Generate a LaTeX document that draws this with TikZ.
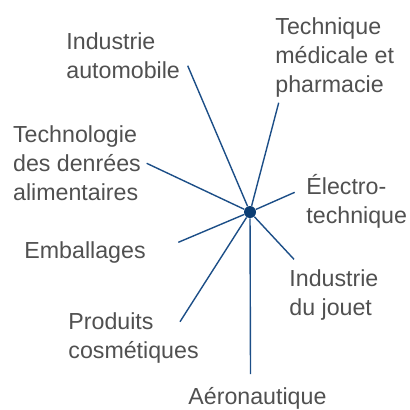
\documentclass[tikz,border=0pt]{standalone}
\usepackage{fontspec}
\setmainfont{Liberation Sans}
\usetikzlibrary{positioning}
\definecolor{navy}{HTML}{0B3D73}
\definecolor{spokeblue}{HTML}{1C4E87}
\definecolor{textgray}{HTML}{505050}

\begin{document}
\begin{tikzpicture}[x=0.5pt, y=-0.5pt,
  lbl/.style={anchor=base west, inner sep=0pt, align=left, text=textgray, font=\fontsize{11.6}{14.4}\selectfont},
  spoke/.style={draw=spokeblue, line width=0.7pt},
]
\useasboundingbox (0,0) rectangle (410,409);

% Hub in the middle
\node[circle, fill=navy, inner sep=0pt, minimum size=6pt] (hub) at (250,212) {};

% Free ends of the spokes
\coordinate (autoEnd) at (187.7,65.7);
\coordinate (medEnd) at (278.7,102.7);
\coordinate (foodEnd) at (146.7,163.3);
\coordinate (elecEnd) at (294.7,192.3);
\coordinate (packEnd) at (178.3,242.3);
\coordinate (toyEnd) at (294,259.3);
\coordinate (cosmEnd) at (180,321.7);
\coordinate (aeroEnd) at (250.5,374);

\foreach \e in {autoEnd,medEnd,foodEnd,elecEnd,packEnd,toyEnd,cosmEnd,aeroEnd}
  \draw[spoke] (hub) -- (\e);

% Labels (anchored at the baseline of their last line)
\node[lbl] (auto) at (66,78) {Industrie\\automobile};
\node[lbl] (med) at (275,92) {Technique\\médicale et\\pharmacie};
\node[lbl] (food) at (12.7,200) {Technologie\\des denrées\\alimentaires};
\node[lbl] (elec) at (306,223) {Électro-\\technique};
\node[lbl] (pack) at (24,258) {Emballages};
\node[lbl] (toy) at (289,315) {Industrie\\du jouet};
\node[lbl] (cosm) at (68,358) {Produits\\cosmétiques};
\node[lbl] (aero) at (188,404) {Aéronautique};

\end{tikzpicture}
\end{document}
